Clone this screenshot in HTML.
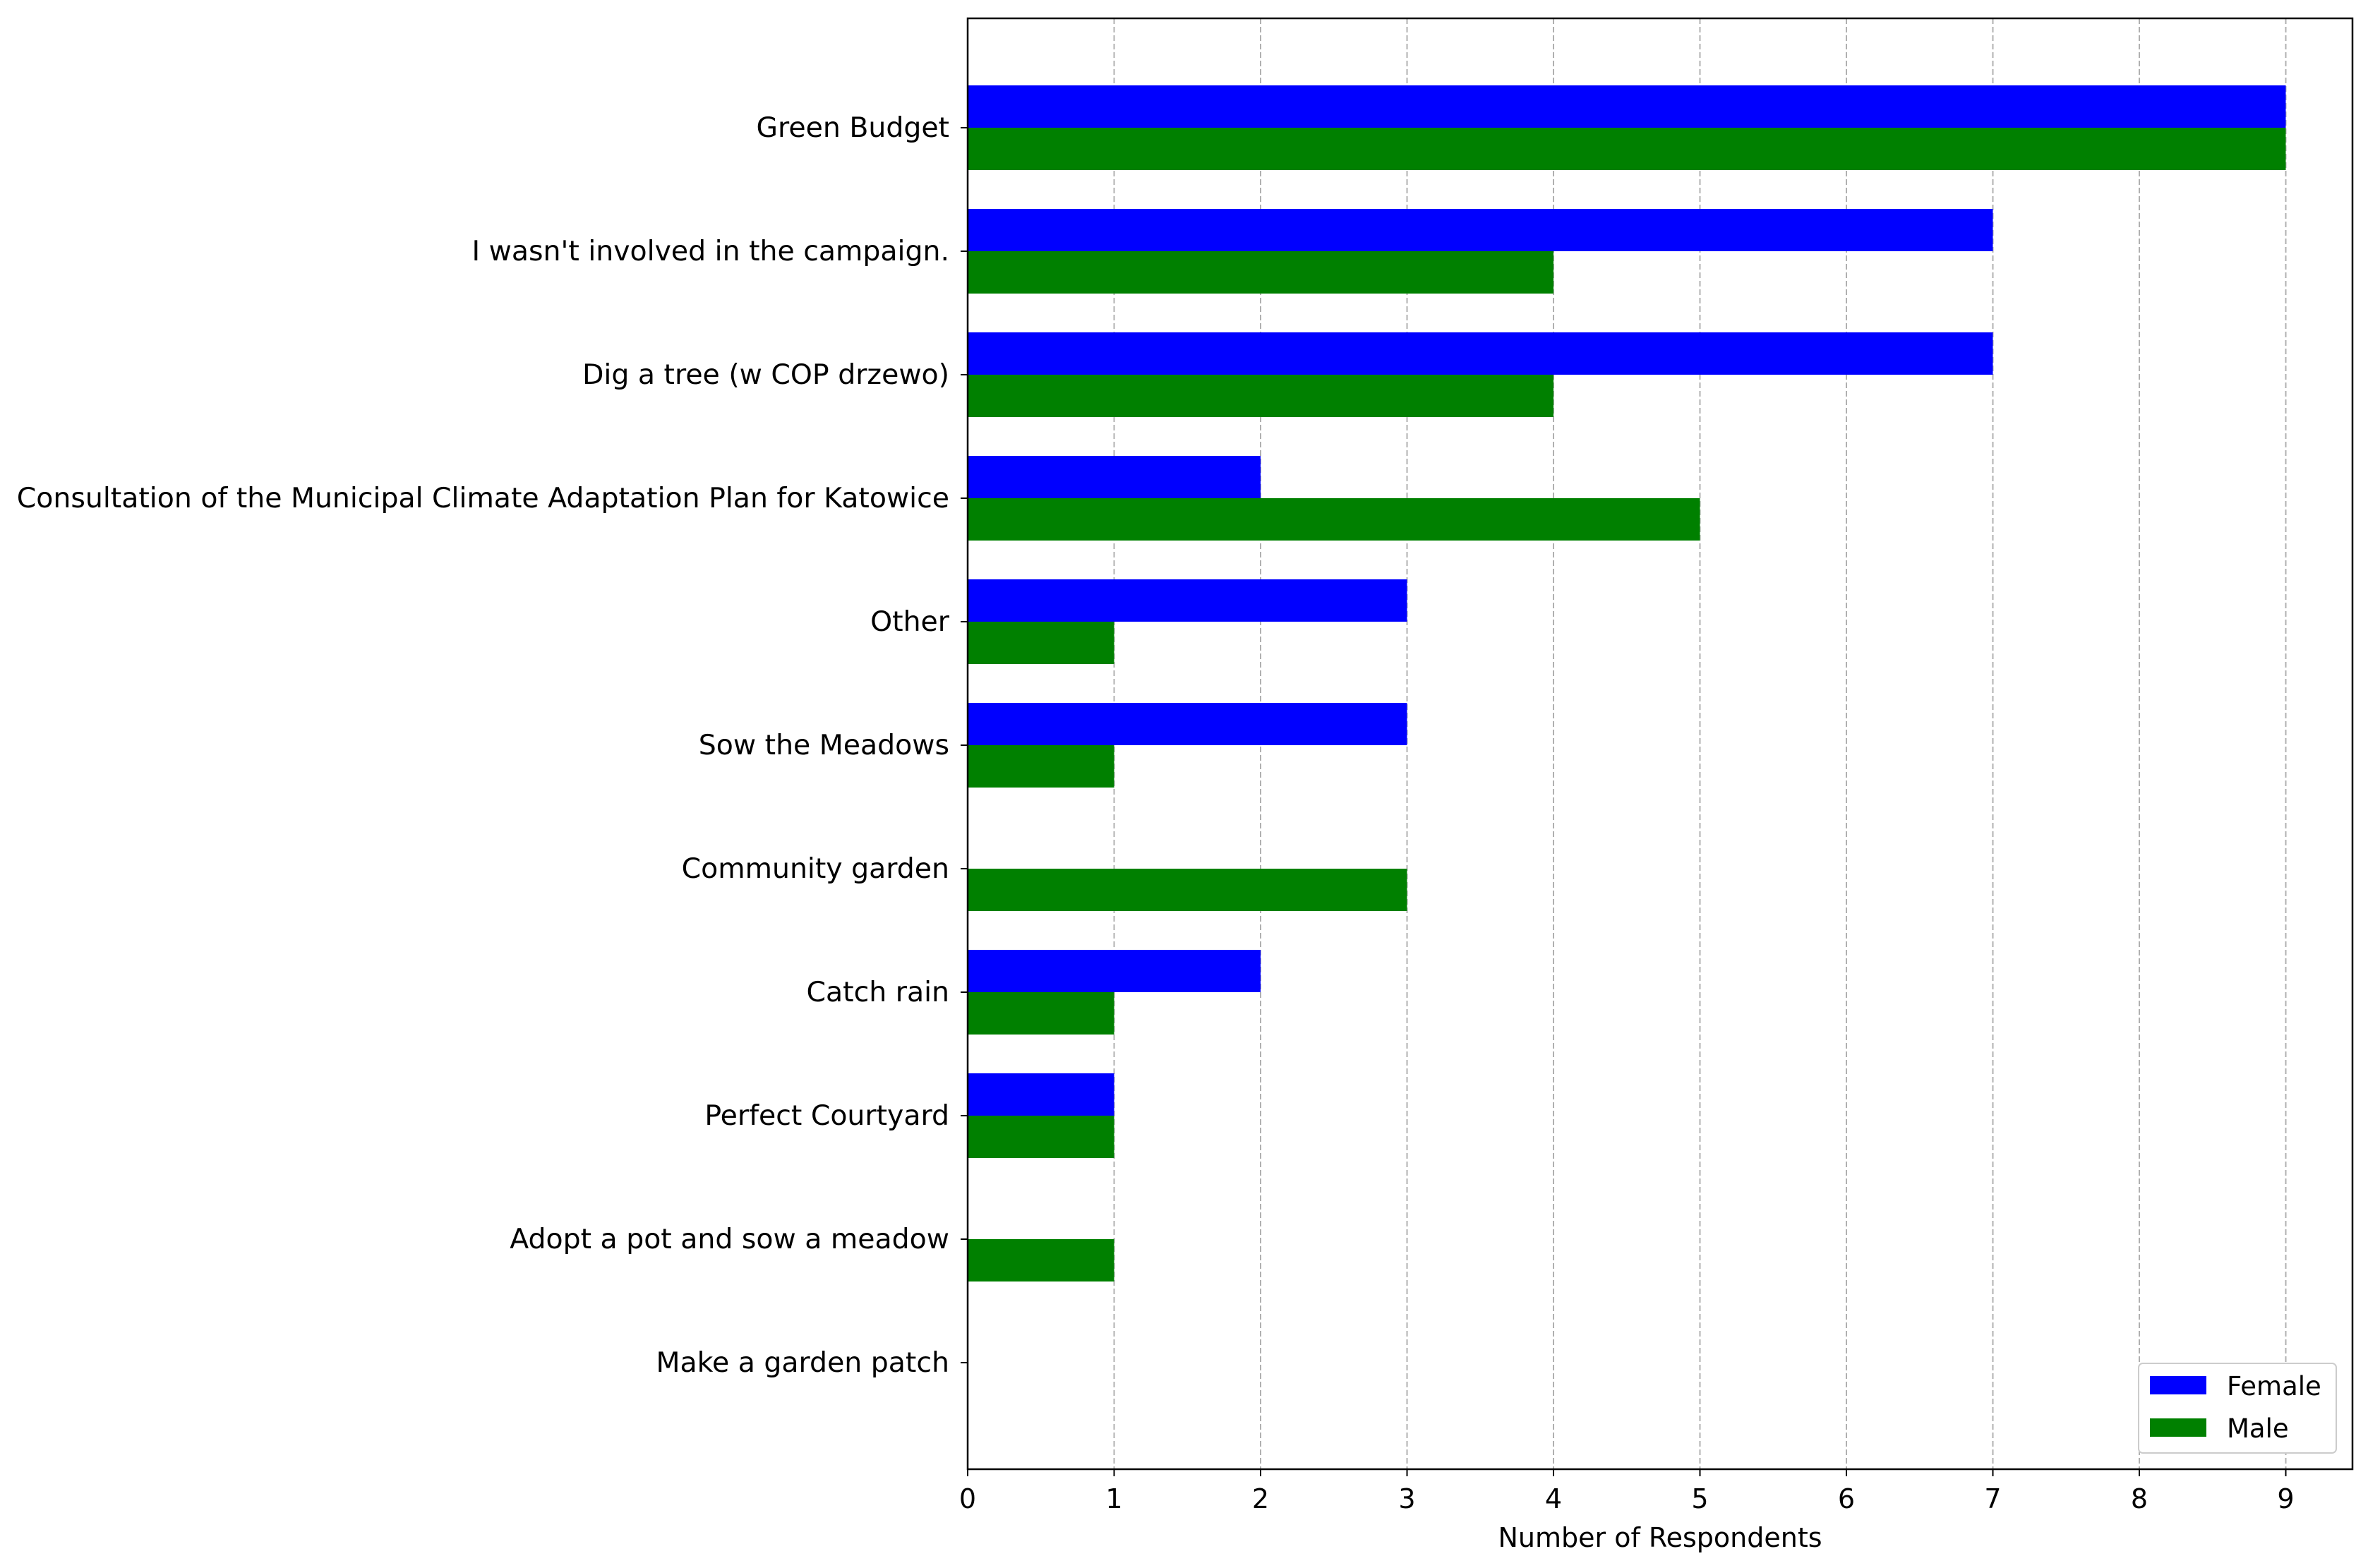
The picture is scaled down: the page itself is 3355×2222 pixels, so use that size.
<!DOCTYPE html>
<html><head><meta charset="utf-8"><style>
body{margin:0;background:#fff;}
svg text{font-family:"DejaVu Sans","Liberation Sans",sans-serif;fill:#000;}
</style></head><body>
<svg width="3355" height="2217" viewBox="0 0 3355 2217" id="chart">
<rect x="0" y="0" width="3355" height="2217" fill="#fff"/>
<g id="grid"></g><g id="bars"></g><g id="axes"></g>
</svg>
<script>
const categories=["Green Budget","I wasn't involved in the campaign.","Dig a tree (w COP drzewo)","Consultation of the Municipal Climate Adaptation Plan for Katowice","Other","Sow the Meadows","Community garden","Catch rain","Perfect Courtyard","Adopt a pot and sow a meadow","Make a garden patch"];
const female=[9,7,7,2,3,3,0,2,1,0,0];
const male=[9,4,4,5,1,1,3,1,1,1,0];
const xTicks=[0,1,2,3,4,5,6,7,8,9];
const NS="http://www.w3.org/2000/svg";
const L=1371,R=3333,T=26,B=2082;
const x=v=>L+v*207.5;
const yc=i=>181+i*175;
const bh=60;
function mk(tag,attrs,parent,txt){const e=document.createElementNS(NS,tag);for(const k in attrs)e.setAttribute(k,attrs[k]);if(txt!==undefined)e.textContent=txt;document.getElementById(parent).appendChild(e);return e;}
xTicks.forEach(t=>{
 const g=mk('line',{x1:x(t),x2:x(t),y1:T,y2:B,stroke:'#b0b0b0','stroke-width':2,'stroke-dasharray':'8,4'},'grid');
 
 
 const tk=mk('line',{x1:x(t),x2:x(t),y1:B,y2:B+10,stroke:'#000','stroke-width':2},'axes');
 
 
 const tl=mk('text',{x:x(t),y:B+55,'font-size':38,'text-anchor':'middle'},'axes',String(t));
 
 
});
categories.forEach((c,i)=>{
 if(female[i]>0){const b=mk('rect',{x:L,y:yc(i)-bh,width:x(female[i])-L,height:bh,fill:'#0000ff'},'bars');
 
 }
 if(male[i]>0){const b=mk('rect',{x:L,y:yc(i),width:x(male[i])-L,height:bh,fill:'#008000'},'bars');
 
 }
 const tk=mk('line',{x1:L-10,x2:L,y1:yc(i),y2:yc(i),stroke:'#000','stroke-width':2},'axes');
 
 
 const tl=mk('text',{x:L-26,y:yc(i)+13,'font-size':39.4,'text-anchor':'end'},'axes',c);
 
 
});
const fr=mk('rect',{x:L,y:T,width:R-L,height:B-T,fill:'none',stroke:'#000','stroke-width':2.5},'axes');


const xl=mk('text',{x:(L+R)/2-0,y:2192,'font-size':38,'text-anchor':'middle'},'axes','Number of Respondents');


const lg=mk('rect',{x:3030,y:1932,width:280,height:127,fill:'#fff',stroke:'#ccc','stroke-width':2,rx:6},'axes');


[['Female','#0000ff'],['Male','#008000']].forEach((s,j)=>{
 const sw=mk('rect',{x:3046,y:1950+j*60,width:80,height:26,fill:s[1]},'axes');
 
 
 const t=mk('text',{x:3155,y:1977+j*60,'font-size':37},'axes',s[0]);
 
 
});
</script>
</body></html>
